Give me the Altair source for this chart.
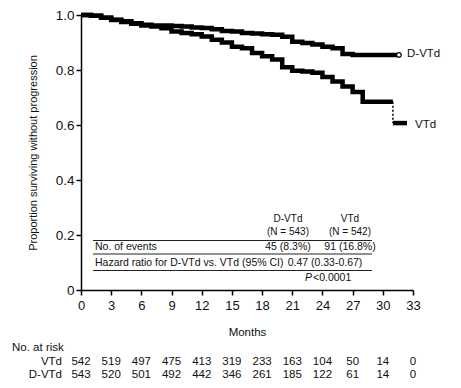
import altair as alt
import pandas as pd

FONT = "Liberation Sans, Arial, sans-serif"

# --- Kaplan-Meier step points ---
months_dvtd = [0, 1, 2, 3, 4, 5, 6, 7, 8, 9, 10, 11, 12, 13, 14, 15, 16, 17, 18, 19,
               20, 21, 22, 23, 24, 25, 26, 27, 28, 29, 30, 31, 31.6]
surv_dvtd = [1.0, 0.997, 0.99, 0.983, 0.977, 0.97, 0.965, 0.962, 0.962, 0.96, 0.958,
             0.955, 0.953, 0.948, 0.942, 0.94, 0.935, 0.933, 0.93, 0.928, 0.921, 0.903,
             0.898, 0.893, 0.885, 0.879, 0.858, 0.855, 0.855, 0.855, 0.855, 0.855, 0.855]

months_vtd = [0, 1, 2, 3, 4, 5, 6, 7, 8, 9, 10, 11, 12, 13, 14, 15, 16, 17, 18, 19,
              20, 21, 22, 23, 24, 25, 26, 27, 28, 29, 30, 31]
surv_vtd = [1.0, 0.997, 0.99, 0.982, 0.975, 0.968, 0.962, 0.958, 0.952, 0.94, 0.935,
            0.93, 0.922, 0.91, 0.9, 0.885, 0.879, 0.862, 0.85, 0.838, 0.81, 0.797, 0.795,
            0.79, 0.775, 0.758, 0.74, 0.72, 0.685, 0.685, 0.685, 0.685]
months_vtd_tail = [31.0, 32.4]
surv_vtd_tail = [0.607, 0.607]

# --- Number at risk ---
risk_months = [0, 3, 6, 9, 12, 15, 18, 21, 24, 27, 30, 33]
risk_vtd = [542, 519, 497, 475, 413, 319, 233, 163, 104, 50, 14, 0]
risk_dvtd = [543, 520, 501, 492, 442, 346, 261, 185, 122, 61, 14, 0]

x_ticks = list(range(0, 34, 3))
y_ticks = [0, 0.2, 0.4, 0.6, 0.8, 1.0]

curves = pd.concat([
    pd.DataFrame({"month": months_dvtd, "surv": surv_dvtd, "seg": "D-VTd"}),
    pd.DataFrame({"month": months_vtd, "surv": surv_vtd, "seg": "VTd-a"}),
    pd.DataFrame({"month": months_vtd_tail, "surv": surv_vtd_tail, "seg": "VTd-b"}),
])
drop = pd.DataFrame({"month": [months_vtd[-1]], "y1": [surv_vtd[-1]], "y2": [surv_vtd_tail[0]]})
endpt = pd.DataFrame({"month": [months_dvtd[-1]], "surv": [surv_dvtd[-1]]})
risk = pd.DataFrame({"month": risk_months, "vtd": [str(v) for v in risk_vtd],
                     "dvtd": [str(v) for v in risk_dvtd]})

xs = alt.Scale(domain=[0, 33], nice=False, zero=False)
ys = alt.Scale(domain=[0, 1], nice=False)

x_axis = alt.Axis(
    values=x_ticks, title="Months", titlePadding=14, labelPadding=4, format="d",
    labelOverlap=False, labelFlush=False, labelFontSize=13, titleFontSize=11.5)
y_axis = alt.Axis(
    values=y_ticks, title="Proportion surviving without progression", titlePadding=17,
    labelOverlap=False, labelFlush=False, labelFontSize=13.5, titleFontSize=11,
    labelExpr="datum.value == 0 ? '0' : format(datum.value, '.1f')")


def X(field="month"):
    return alt.X(f"{field}:Q", scale=xs, axis=x_axis)


def Y(field="surv"):
    return alt.Y(f"{field}:Q", scale=ys, axis=y_axis)


lines = alt.Chart(curves).mark_line(interpolate="step-after", color="black", strokeWidth=4.5,
                                     strokeCap="butt").encode(
    x=X(), y=Y(), detail="seg:N")

dash = alt.Chart(drop).mark_rule(color="black", strokeWidth=1.5, strokeDash=[2, 2]).encode(
    x=X(), y=Y("y1"), y2="y2:Q")

circ = alt.Chart(endpt).mark_point(shape="circle", filled=True, fill="white", stroke="black",
                                   strokeWidth=1.2, size=22, opacity=1).encode(
    x=X(), y=Y())


def txt(text, x, y, align="left", style="normal", size=10.5):
    return alt.Chart(pd.DataFrame({"t": [text]})).mark_text(
        align=align, baseline="middle", font=FONT, fontSize=size, fontStyle=style,
        color="#111").encode(x=alt.value(x), y=alt.value(y), text="t:N")


def hline(x1, x2, y):
    return alt.Chart(pd.DataFrame({"a": [0]})).mark_rule(color="#222", strokeWidth=1).encode(
        x=alt.value(x1), x2=alt.value(x2), y=alt.value(y))


annots = [
    txt("D-VTd", 326, 39, size=11.5), txt("VTd", 334, 110, size=11.5),
    txt("D-VTd", 207, 204, "center", size=10), txt("(N = 543)", 207, 217, "center", size=10),
    txt("VTd", 269, 204, "center", size=10), txt("(N = 542)", 269, 217, "center", size=10),
    hline(12, 291, 225.5),
    txt("No. of events", 14, 232), txt("45 (8.3%)", 207, 232, "center"),
    txt("91 (16.8%)", 269, 232, "center"),
    hline(12, 291, 239),
    txt("Hazard ratio for D-VTd vs. VTd (95% CI)", 14, 248),
    txt("0.47 (0.33-0.67)", 244, 248, "center"),
    hline(12, 291, 255.5),
    txt("P", 231, 263, "right", "italic"), txt("<0.0001", 232, 263),
    txt("No. at risk", -69, 333, size=11.5), txt("VTd", -19, 347, "right", size=11.5),
    txt("D-VTd", -19, 360, "right", size=11.5),
]

risk_v = alt.Chart(risk).mark_text(font=FONT, fontSize=11.5, color="#111", baseline="middle").encode(
    x=X(), y=alt.value(347), text="vtd:N")
risk_d = alt.Chart(risk).mark_text(font=FONT, fontSize=11.5, color="#111", baseline="middle").encode(
    x=X(), y=alt.value(360), text="dvtd:N")

chart = alt.layer(lines, dash, circ, risk_v, risk_d, *annots).properties(
    width=332, height=275,
    autosize=alt.AutoSizeParams(type="none"),
    padding={"left": 73, "top": 7, "right": 40, "bottom": 90},
).configure_view(stroke=None).configure_axis(
    domainColor="black", domainWidth=1.5, tickColor="black", tickWidth=1.5, tickSize=5,
    labelFont=FONT, labelColor="#111", titleFont=FONT,
    titleFontWeight="normal", titleColor="#111", grid=False,
)

chart.save("out.html", embed_options={"renderer": "svg", "actions": False})
